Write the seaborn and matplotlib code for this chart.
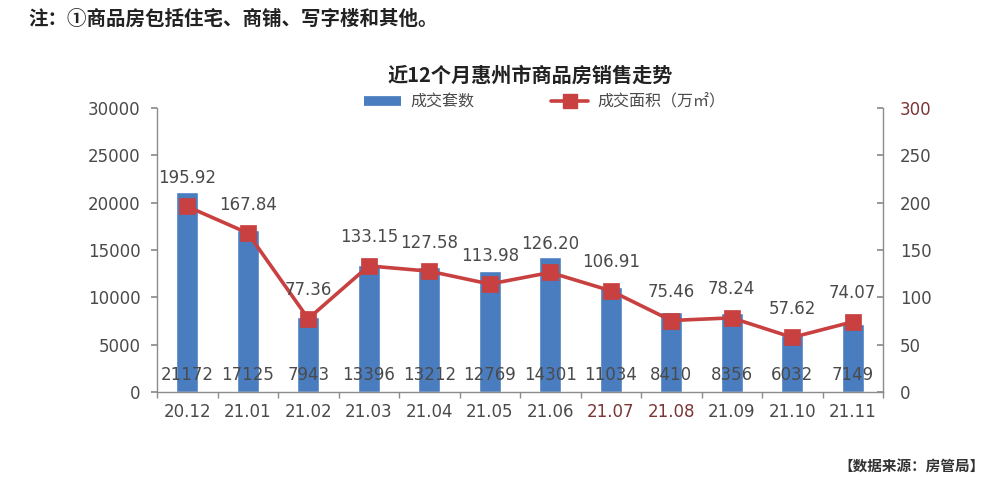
import matplotlib
matplotlib.use("Agg")
import matplotlib.pyplot as plt
from matplotlib.lines import Line2D
import seaborn as sns
import numpy as np

months = ["20.12", "21.01", "21.02", "21.03", "21.04", "21.05",
          "21.06", "21.07", "21.08", "21.09", "21.10", "21.11"]
units = [21172, 17125, 7943, 13396, 13212, 12769, 14301, 11034, 8410, 8356, 6032, 7149]
area = [195.92, 167.84, 77.36, 133.15, 127.58, 113.98, 126.20, 106.91, 75.46, 78.24, 57.62, 74.07]
left_ticks = [0, 5000, 10000, 15000, 20000, 25000, 30000]
right_ticks = [0, 50, 100, 150, 200, 250, 300]

sns.set_theme(style="white")
plt.rcParams['font.family'] = ['DejaVu Sans', 'Noto Sans CJK SC']
CJK = ['Noto Sans CJK SC', 'DejaVu Sans']

BLUE = "#4a7dbf"
RED = "#c8403f"
GRAY = "#4a4a4a"
SPINE = "#8c8c8c"

fig = plt.figure(figsize=(10, 4.93), dpi=100)
ax = fig.add_axes([0.157, 0.205, 0.726, 0.576])

sns.barplot(x=months, y=units, color=BLUE, width=0.36, ax=ax, saturation=1)
ax.set_ylim(0, 30000)
ax.set_yticks(left_ticks)
ax.set_yticklabels([str(t) for t in left_ticks])
ax.set_xlim(-0.5, len(months) - 0.5)

ax2 = ax.twinx()
sns.pointplot(x=months, y=area, color=RED, markers="s", markersize=9.5,
              linewidth=2.6, ax=ax2)
ax2.set_ylim(0, 300)
ax2.set_yticks(right_ticks)
ax2.set_yticklabels([str(t) for t in right_ticks])
ax2.set_xlim(-0.5, len(months) - 0.5)

for a in (ax, ax2):
    a.set_xlabel("")
    a.set_ylabel("")
    a.grid(False)
    a.spines["top"].set_visible(False)
    for s in ("left", "right", "bottom"):
        a.spines[s].set_color(SPINE)
        a.spines[s].set_linewidth(1.0)

ax.spines["right"].set_visible(False)
ax2.spines["left"].set_visible(False)
ax2.spines["bottom"].set_visible(False)

# x ticks: labels at centers, tick marks at boundaries
ax.set_xticks(range(len(months)))
ax.set_xticklabels(months)
ax.tick_params(axis="x", which="major", length=0, pad=8, labelsize=12, labelcolor=GRAY)
ax.set_xticks(np.arange(-0.5, len(months), 1.0), minor=True)
ax.tick_params(axis="x", which="minor", length=4, color=SPINE, direction="out", bottom=True)
for lbl in ax.get_xticklabels():
    if lbl.get_text() in ("21.07", "21.08"):
        lbl.set_color("#7a3535")

ax.tick_params(axis="y", which="major", left=True, length=4, color=SPINE,
               direction="out", labelsize=12, labelcolor=GRAY, pad=8)
ax2.tick_params(axis="y", which="major", right=True, length=4, color=SPINE,
                direction="in", labelsize=12, labelcolor=GRAY, pad=12)
for lbl in ax2.get_yticklabels():
    if lbl.get_text() == "300":
        lbl.set_color("#7a3535")

# data labels
for i, v in enumerate(area):
    ax2.annotate(f"{v:.2f}", (i, v), xytext=(0, 14), textcoords="offset points",
                 ha="center", va="bottom", fontsize=12, color=GRAY)
for i, v in enumerate(units):
    ax.text(i, 0.06, str(v), transform=ax.get_xaxis_transform(),
            ha="center", va="center", fontsize=12, color=GRAY)

# title
fig.text(0.53, 0.848, "近12个月惠州市商品房销售走势", ha="center", va="center",
         fontsize=14.5, fontweight="bold", color="#222222", family=CJK)

# legend
handles = [Line2D([0], [0], color=BLUE, lw=7, solid_capstyle="butt"),
           Line2D([0], [0], color=RED, lw=2.6, marker="s", markersize=9.5)]
leg = fig.legend(handles, ["成交套数", "成交面积（万㎡）"], loc="center",
                 bbox_to_anchor=(0.545, 0.793), ncol=2, frameon=False,
                 columnspacing=4.8, handlelength=2.3, handletextpad=0.6,
                 prop={"family": CJK, "size": 11.5})
for t in leg.get_texts():
    t.set_color(GRAY)

# note and source
fig.text(0.028, 0.962, "注：①商品房包括住宅、商铺、写字楼和其他。", ha="left", va="center",
         fontsize=14, fontweight="bold", color="#222222", family=CJK)
fig.text(0.985, 0.055, "【数据来源：房管局】", ha="right", va="center",
         fontsize=10.5, fontweight="bold", color="#333333", family=CJK)

fig.savefig("out.png", dpi=100)
